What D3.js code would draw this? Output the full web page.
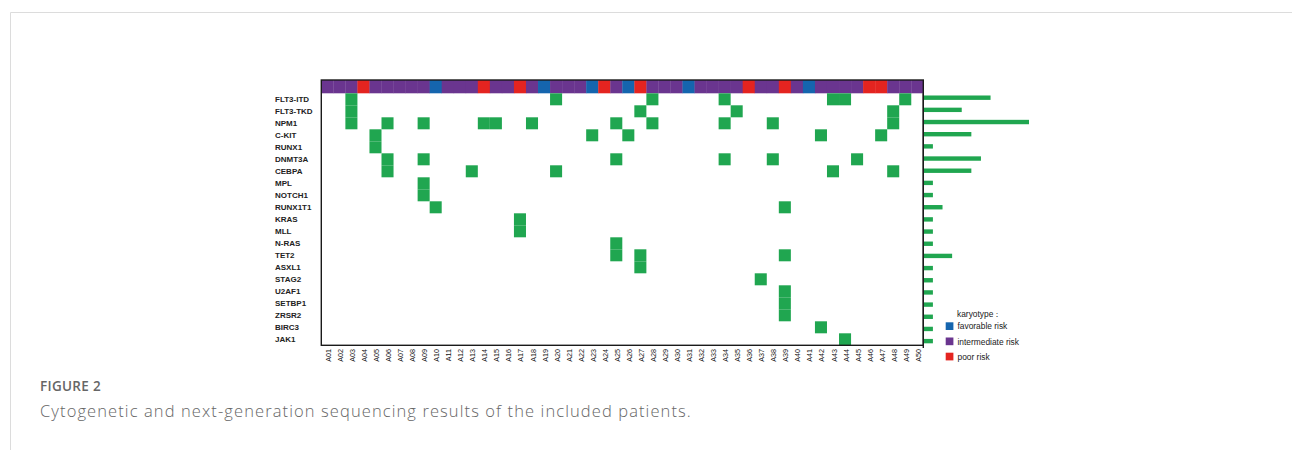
<!DOCTYPE html>
<html><head><meta charset="utf-8">
<script src="https://cdn.jsdelivr.net/npm/d3@7/dist/d3.min.js"></script>
<style>
html,body{margin:0;padding:0;background:#fff;}
svg{display:block;}
</style></head>
<body>
<svg id="chart" width="1292" height="450"></svg>
<script>
const genes = ["FLT3-ITD","FLT3-TKD","NPM1","C-KIT","RUNX1","DNMT3A","CEBPA","MPL","NOTCH1","RUNX1T1","KRAS","MLL","N-RAS","TET2","ASXL1","STAG2","U2AF1","SETBP1","ZRSR2","BIRC3","JAK1"];
const patients = d3.range(1, 51).map(i => "A" + String(i).padStart(2, "0"));
// karyotype per patient: F favorable, I intermediate, P poor
const karyotype = ["I","I","I","P","I","I","I","I","I","F",
                   "I","I","I","P","I","I","P","I","F","I",
                   "I","I","F","P","I","F","P","I","I","I",
                   "F","I","I","I","I","P","I","I","P","I",
                   "F","I","I","I","I","P","P","I","I","I"];
// mutated patients per gene (same order as genes)
const mutations = [
  ["A03","A20","A28","A34","A43","A44","A49"],
  ["A03","A27","A35","A48"],
  ["A03","A06","A09","A14","A15","A18","A25","A28","A34","A38","A48"],
  ["A05","A23","A26","A42","A47"],
  ["A05"],
  ["A06","A09","A25","A34","A38","A45"],
  ["A06","A13","A20","A43","A48"],
  ["A09"],
  ["A09"],
  ["A10","A39"],
  ["A17"],
  ["A17"],
  ["A25"],
  ["A25","A27","A39"],
  ["A27"],
  ["A37"],
  ["A39"],
  ["A39"],
  ["A39"],
  ["A42"],
  ["A44"]
];
const riskKeys = ["F","I","P"];
const riskLabels = ["favorable risk","intermediate risk","poor risk"];
const riskColors = ["#1565ae","#6a358f","#e42420"];

const svg = d3.select("#chart");
const green = "#20a650";

// frame lines of the figure
svg.append("line").attr("x1",10.5).attr("x2",1292).attr("y1",12.5).attr("y2",12.5).attr("stroke","#dcdcdc");
svg.append("line").attr("x1",10.5).attr("x2",10.5).attr("y1",12.5).attr("y2",450).attr("stroke","#dcdcdc");

const L = 321.3, R = 923.3, T = 80, KB = 93.3, B = 345.3;
const x = d3.scaleBand().domain(patients).range([L, R]);
const y = d3.scaleBand().domain(genes).range([KB, B]);
const color = d3.scaleOrdinal().domain(riskKeys).range(riskColors);

// karyotype strip
svg.append("g").selectAll("rect").data(patients).join("rect")
  .attr("x", d => x(d)).attr("y", T)
  .attr("width", x.bandwidth() + 0.3).attr("height", KB - T)
  .attr("fill", (d, i) => color(karyotype[i]));

// mutation cells
const cells = [];
genes.forEach((g, gi) => mutations[gi].forEach(p => cells.push({g, p})));
svg.append("g").selectAll("rect").data(cells).join("rect")
  .attr("x", d => x(d.p)).attr("y", d => y(d.g))
  .attr("width", x.bandwidth()).attr("height", y.bandwidth())
  .attr("fill", green);

// border
svg.append("rect").attr("x", L).attr("y", T).attr("width", R - L).attr("height", B - T)
  .attr("fill", "none").attr("stroke", "#1a1a1a").attr("stroke-width", 1.4);

// gene labels
svg.append("g").selectAll("text").data(genes).join("text")
  .attr("x", 275).attr("y", d => y(d) + y.bandwidth() / 2)
  .attr("dominant-baseline", "central")
  .attr("font-family", "Liberation Sans, Arial, sans-serif")
  .attr("font-size", 8).attr("font-weight", "bold").attr("fill", "#222")
  .text(d => d);

// patient labels
svg.append("g").selectAll("text").data(patients).join("text")
  .attr("transform", d => `translate(${x(d) + x.bandwidth() / 2 + 1},349) rotate(-90)`)
  .attr("text-anchor", "end").attr("dominant-baseline", "central")
  .attr("font-family", "Liberation Sans, Arial, sans-serif")
  .attr("font-size", 7.2).attr("fill", "#111")
  .text(d => d);

// side bars (counts)
const counts = mutations.map(m => m.length);
const xs = d3.scaleLinear().domain([0, 11]).range([R, 1029]);
const ys = d3.scaleBand().domain(genes).range([91.6, 347.2]);
svg.append("g").selectAll("rect").data(genes).join("rect")
  .attr("x", R + 0.7).attr("y", d => ys(d) + ys.bandwidth() / 2 - 2.2)
  .attr("width", (d, i) => xs(counts[i]) - R - 0.7).attr("height", 4.4)
  .attr("fill", green);
svg.append("line").attr("x1", R).attr("x2", R).attr("y1", KB).attr("y2", 348)
  .attr("stroke", "#1a1a1a").attr("stroke-width", 1.4);

// legend
const lg = svg.append("g").attr("font-family", "Liberation Sans, Arial, sans-serif").attr("font-size", 8.4).attr("fill", "#222");
lg.append("text").attr("x", 957).attr("y", 313.5).attr("dominant-baseline", "central").text("karyotype：");
riskKeys.forEach((k, i) => {
  lg.append("rect").attr("x", 945.7).attr("y", 322.3 + i * 15.2).attr("width", 7.7).attr("height", 7.7).attr("fill", riskColors[i]);
  lg.append("text").attr("x", 957.5).attr("y", 326.3 + i * 15.2).attr("dominant-baseline", "central").text(riskLabels[i]);
});

// caption
svg.append("text").attr("x", 40).attr("y", 391).attr("font-family", "Open Sans, sans-serif")
  .attr("font-size", 13.5).attr("font-weight", 600).attr("letter-spacing", 0.3).attr("fill", "#666").text("FIGURE 2");
svg.append("text").attr("x", 40).attr("y", 417).attr("font-family", "Open Sans, sans-serif")
  .attr("font-weight", 300).attr("font-size", 16.5).attr("letter-spacing", 1.1).attr("fill", "#666")
  .text("Cytogenetic and next-generation sequencing results of the included patients.");
</script>
</body></html>
